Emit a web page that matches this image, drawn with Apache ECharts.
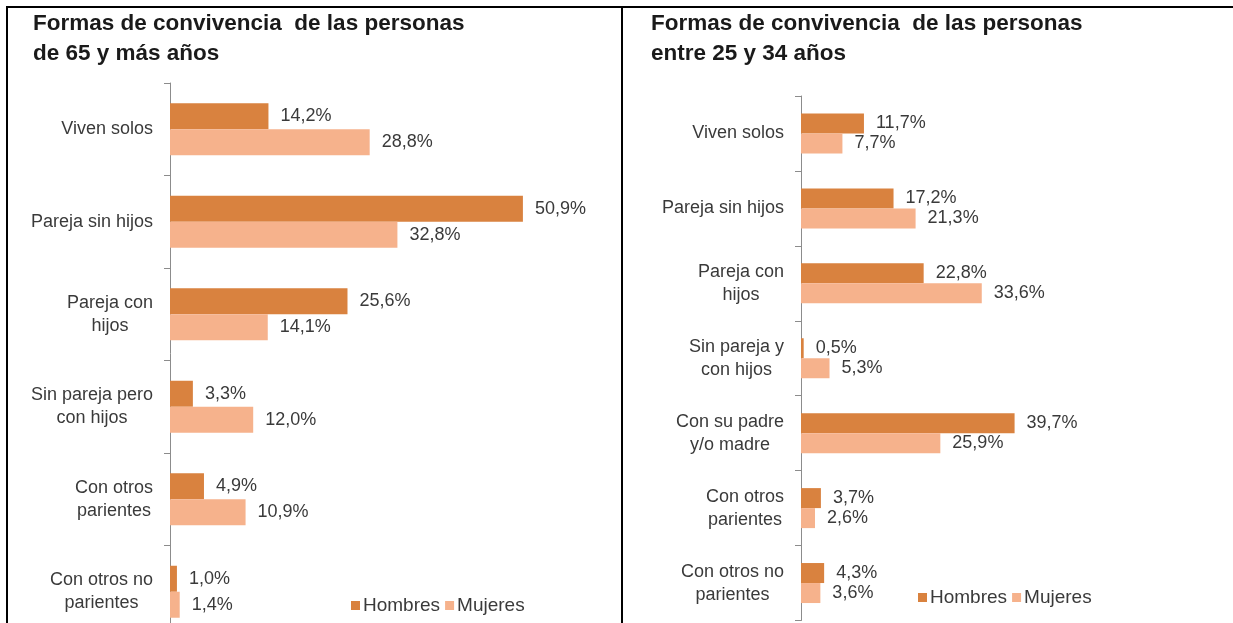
<!DOCTYPE html>
<html>
<head>
<meta charset="utf-8">
<script src="https://cdn.jsdelivr.net/npm/echarts@6/dist/echarts.min.js"></script>
<style>
html,body{margin:0;padding:0;background:#fff;}
#chart{width:1233px;height:623px;}
</style>
</head>
<body>
<div id="chart"></div>
<script>
// ---- data ----
const titleLeft = 'Formas de convivencia  de las personas\nde 65 y más años';
const titleRight = 'Formas de convivencia  de las personas\nentre 25 y 34 años';
const seriesNames = ['Hombres', 'Mujeres'];

const catsLeft = ['Viven solos', 'Pareja sin hijos', 'Pareja con\nhijos', 'Sin pareja pero\ncon hijos', 'Con otros\nparientes', 'Con otros no\nparientes'];
const hombresLeft = [14.2, 50.9, 25.6, 3.3, 4.9, 1.0];
const mujeresLeft = [28.8, 32.8, 14.1, 12.0, 10.9, 1.4];

const catsRight = ['Viven solos', 'Pareja sin hijos', 'Pareja con\nhijos', 'Sin pareja y\ncon hijos', 'Con su padre\ny/o madre', 'Con otros\nparientes', 'Con otros no\nparientes'];
const hombresRight = [11.7, 17.2, 22.8, 0.5, 39.7, 3.7, 4.3];
const mujeresRight = [7.7, 21.3, 33.6, 5.3, 25.9, 2.6, 3.6];

// ---- styles ----
const FONT = '"Liberation Sans", Arial, sans-serif';
const C_H = '#D9823F';
const C_M = '#F6B28C';
const TXT = '#3a3a3a';

const chart = echarts.init(document.getElementById('chart'), null, {renderer: 'canvas'});

function catLabel(v) {
  return v.split('\n').map(s => '{c|' + s + '}').join('\n');
}
function valLabel(p) {
  return p.value.toFixed(1).replace('.', ',') + '%';
}
function yAxis(idx, cats) {
  return {
    type: 'category', gridIndex: idx, data: cats, inverse: true,
    axisLine: {show: true, lineStyle: {color: '#8c8c8c', width: 1}},
    axisTick: {show: true, length: 6, lineStyle: {color: '#8c8c8c'}},
    axisLabel: {
      margin: 17, align: 'right', formatter: catLabel,
      rich: {c: {align: 'center', fontFamily: FONT, fontSize: 18, lineHeight: 23, color: TXT}}
    }
  };
}
function bar(name, idx, data, color, bw) {
  return {
    type: 'bar', name: name, xAxisIndex: idx, yAxisIndex: idx, data: data,
    barWidth: bw, barGap: '0%', itemStyle: {color: color},
    label: {show: true, position: 'right', distance: 12, formatter: valLabel,
      fontFamily: FONT, fontSize: 18, color: TXT, padding: [3, 0, 0, 0]},
    silent: true, animation: false
  };
}

const titleStyle = {fontFamily: FONT, fontSize: 22.5, fontWeight: 'bold', color: '#1a1a1a', lineHeight: 30};
const legendText = {fontFamily: FONT, fontSize: 19, color: TXT, padding: [0, 0, 0, -2]};

const option = {
  animation: false,
  backgroundColor: '#fff',
  title: [
    {text: titleLeft, left: 28, top: 4, textStyle: titleStyle},
    {text: titleRight, left: 646, top: 4, textStyle: titleStyle}
  ],
  legend: [
    {data: seriesNames, left: 346, top: 591, icon: 'rect', itemWidth: 9, itemHeight: 9, itemGap: 5,
      textStyle: legendText, selectedMode: false},
    {data: seriesNames, left: 913, top: 583, icon: 'rect', itemWidth: 9, itemHeight: 9, itemGap: 5,
      textStyle: legendText, selectedMode: false}
  ],
  grid: [
    {left: 170, top: 83, width: 416, height: 555, outerBoundsMode: 'none', containLabel: false},
    {left: 801, top: 96, width: 269, height: 524.5, outerBoundsMode: 'none', containLabel: false}
  ],
  xAxis: [
    {type: 'value', gridIndex: 0, min: 0, max: 60, show: false, splitLine: {show: false}},
    {type: 'value', gridIndex: 1, min: 0, max: 50, show: false, splitLine: {show: false}}
  ],
  yAxis: [yAxis(0, catsLeft), yAxis(1, catsRight)],
  series: [
    bar(seriesNames[0], 0, hombresLeft, C_H, 26),
    bar(seriesNames[1], 0, mujeresLeft, C_M, 26),
    bar(seriesNames[0], 1, hombresRight, C_H, 20),
    bar(seriesNames[1], 1, mujeresRight, C_M, 20)
  ],
  graphic: [
    {type: 'line', shape: {x1: 6, y1: 7, x2: 1233, y2: 7}, style: {stroke: '#000', lineWidth: 2}},
    {type: 'line', shape: {x1: 7, y1: 6, x2: 7, y2: 623}, style: {stroke: '#000', lineWidth: 2}},
    {type: 'line', shape: {x1: 622, y1: 6, x2: 622, y2: 623}, style: {stroke: '#000', lineWidth: 2}}
  ]
};
chart.setOption(option);
</script>
</body>
</html>
